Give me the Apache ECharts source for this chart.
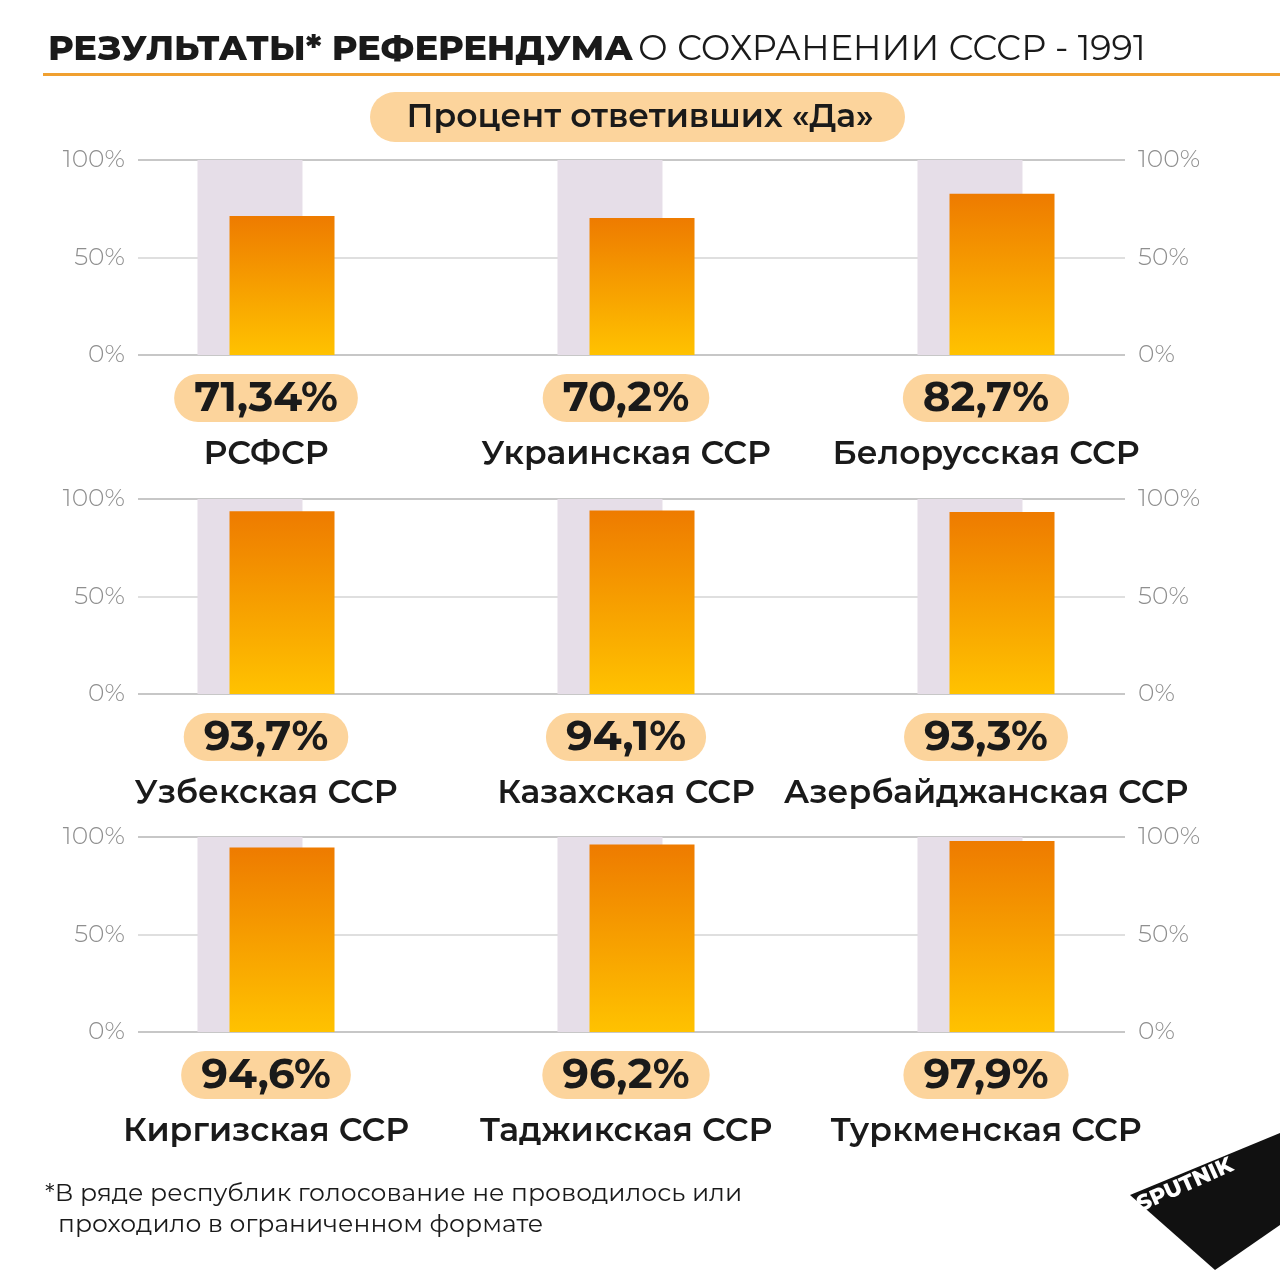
<!DOCTYPE html>
<html>
<head>
<meta charset="utf-8">
<script src="https://cdn.jsdelivr.net/npm/echarts@6/dist/echarts.min.js"></script>
<style>html,body{margin:0;padding:0;background:#fff}#main{width:1280px;height:1280px}</style>
</head>
<body>
<div id="main"></div>
<script>
// республики по рядам
const republics = [
    ['РСФСР', 'Украинская ССР', 'Белорусская ССР'],
    ['Узбекская ССР', 'Казахская ССР', 'Азербайджанская ССР'],
    ['Киргизская ССР', 'Таджикская ССР', 'Туркменская ССР']
];
const yesShare = [
    [71.34, 70.2, 82.7],
    [93.7, 94.1, 93.3],
    [94.6, 96.2, 97.9]
];
const yTicks = [0, 50, 100];
const fullBar = 100;

const rowTop = [160, 499, 837];
const rowH = 195;
const FONT = 'Montserrat, Inter, "Noto Sans", sans-serif';

function fmt(v) {
    return String(v).replace('.', ',') + '%';
}

var grid = [], xAxis = [], yAxis = [], series = [];
for (let r = 0; r < 3; r++) {
    // сетка для линий и подписей оси
    grid.push({left: 138, right: 155, top: rowTop[r], height: rowH});
    // сетка для столбиков
    grid.push({left: 86, right: 114, top: rowTop[r], height: rowH});
    const ga = r * 2, gb = r * 2 + 1;
    xAxis.push({gridIndex: ga, type: 'category', data: ['a'], show: false});
    xAxis.push({
        gridIndex: gb, type: 'category', data: republics[r],
        axisLine: {show: false}, axisTick: {show: false},
        axisLabel: {
            margin: 18, interval: 0,
            formatter: (name, i) => '{v|' + fmt(yesShare[r][i]) + '}\n{n|' + name + '}',
            rich: {
                v: {fontFamily: FONT, fontSize: 42, fontWeight: 700, color: '#1a1a1a',
                    backgroundColor: '#fcd49c', borderRadius: 26, padding: [4, 20, 2, 20], lineHeight: 50},
                n: {fontFamily: FONT, fontSize: 33, fontWeight: 600, color: '#1a1a1a', lineHeight: 62}
            }
        }
    });
    const yBase = {gridIndex: ga, type: 'value', min: 0, max: 100, interval: 50,
        axisLine: {show: false}, axisTick: {show: false},
        axisLabel: {fontFamily: FONT, fontSize: 25, fontWeight: 300, color: '#8f8f8f', formatter: '{value}%', margin: 13}};
    yAxis.push(Object.assign({}, yBase, {position: 'left',
        splitLine: {show: true, lineStyle: {color: ['#b5b5b5', '#d5d5d5', '#b5b5b5'], width: 1.5}}}));
    yAxis.push(Object.assign({}, yBase, {position: 'right', splitLine: {show: false}}));
    yAxis.push({gridIndex: gb, type: 'value', min: 0, max: 100, show: false});
    const yb = r * 3 + 2;
    series.push({
        type: 'bar', xAxisIndex: r * 2 + 1, yAxisIndex: yb, barWidth: 105, barGap: '-69.5%',
        data: republics[r].map(() => fullBar), itemStyle: {color: '#e6dee8'}, silent: true, z: 1
    });
    series.push({
        type: 'bar', xAxisIndex: r * 2 + 1, yAxisIndex: yb, barWidth: 105,
        data: yesShare[r], z: 2,
        itemStyle: {color: new echarts.graphic.LinearGradient(0, 0, 0, 1, [
            {offset: 0, color: '#ee7b00'}, {offset: 1, color: '#ffc200'}])}
    });
}

var myChart = echarts.init(document.getElementById('main'), null, {renderer: 'canvas'});
myChart.setOption({
    animation: false,
    backgroundColor: '#ffffff',
    title: {
        left: 43, top: 27,
        text: '{b|РЕЗУЛЬТАТЫ* РЕФЕРЕНДУМА} {r|О СОХРАНЕНИИ СССР - 1991}',
        textStyle: {rich: {
            b: {fontFamily: FONT, fontSize: 35, fontWeight: 800, color: '#1a1a1a'},
            r: {fontFamily: FONT, fontSize: 35, fontWeight: 400, color: '#1a1a1a'}
        }}
    },
    graphic: [
        {type: 'rect', shape: {x: 43, y: 73, width: 1237, height: 3}, style: {fill: '#f0a030'}},
        {type: 'rect', shape: {x: 370, y: 92, width: 535, height: 50, r: 25}, style: {fill: '#fcd49c'}},
        {type: 'text', x: 640, y: 117, style: {text: 'Процент ответивших «Да»', fontFamily: FONT,
            fontSize: 33, fontWeight: 600, fill: '#1a1a1a', align: 'center', verticalAlign: 'middle'}},
        {type: 'text', x: 45, y: 1178, style: {text: '*В ряде республик голосование не проводилось или\n  проходило в ограниченном формате',
            fontFamily: FONT, fontSize: 25, fill: '#1a1a1a', lineHeight: 31}},
        {type: 'polygon', shape: {points: [[1130, 1195], [1280, 1133], [1280, 1225], [1215, 1270]]}, style: {fill: '#111'}},
        {type: 'text', x: 1185, y: 1185, rotation: 0.42, style: {text: 'SPUTNIK', fontFamily: FONT,
            fontSize: 22, fontWeight: 800, fill: '#fff', align: 'center', verticalAlign: 'middle'}}
    ],
    grid: grid, xAxis: xAxis, yAxis: yAxis, series: series
});
</script>
</body>
</html>
